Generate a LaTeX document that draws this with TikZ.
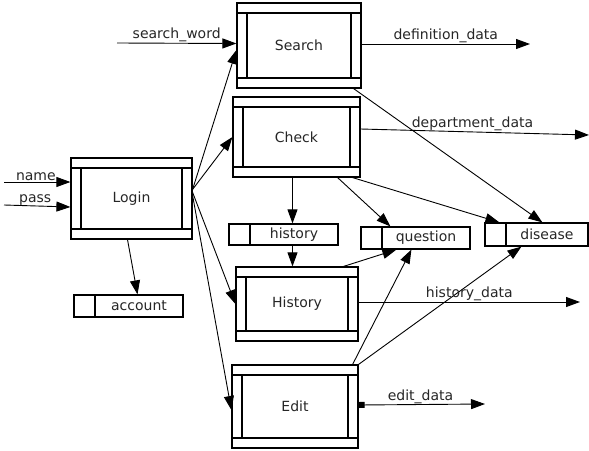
\documentclass[tikz,border=0pt]{standalone}
\usepackage{fontspec}
\newfontfamily\dvsans{DejaVu Sans}
\usetikzlibrary{arrows.meta,calc}

% right-hand cell of a data store: empty id cell of 21pt, then the name
\newcommand\storecell[2]{\hspace*{21pt}\makebox[#1][c]{#2}}

\tikzset{
  txt/.style={font=\dvsans\fontsize{14}{16}\selectfont, text=black!85},
  process/.style={draw, line width=1.2pt, inner sep=0pt, txt,
    path picture={
      \draw[line width=1.2pt]
        ([yshift=-10pt]path picture bounding box.north west) -- ([yshift=-10pt]path picture bounding box.north east)
        ([yshift=10pt]path picture bounding box.south west) -- ([yshift=10pt]path picture bounding box.south east)
        ([xshift=10pt,yshift=-10pt]path picture bounding box.north west) -- ([xshift=10pt,yshift=10pt]path picture bounding box.south west)
        ([xshift=-10pt,yshift=-10pt]path picture bounding box.north east) -- ([xshift=-10pt,yshift=10pt]path picture bounding box.south east);
    }},
  store/.style={draw, line width=1.2pt, inner sep=0pt, txt,
    path picture={
      \draw[line width=1.2pt]
        ([xshift=21pt]path picture bounding box.north west) -- ([xshift=21pt]path picture bounding box.south west);
    }},
  tip/.style={Triangle[length=14pt,width=10pt]},
  flow/.style={line width=0.9pt, -{Triangle[length=14pt,width=10pt]}},
  flowlabel/.style={txt, above, inner sep=0.5pt},
}

\begin{document}
\begin{tikzpicture}[x=1pt,y=-1pt]
\useasboundingbox (0,0) rectangle (589,450);

% processes
\node[process, minimum width=124pt, minimum height=85pt] (search)  at (299,45.5)  {Search};
\node[process, minimum width=127pt, minimum height=80pt] (check)   at (296.5,137) {Check};
\node[process, minimum width=121pt, minimum height=81pt] (login)   at (131.5,198.5) {Login};
\node[process, minimum width=122pt, minimum height=74pt] (history) at (297,304)   {History};
\node[process, minimum width=126pt, minimum height=83pt] (edit)    at (295,406.5) {Edit};

% data stores
\node[store, minimum width=109pt, minimum height=21pt] (histstore) at (283.5,234.5) {\storecell{88pt}{history}};
\node[store, minimum width=109pt, minimum height=22pt] (question)  at (415.5,238)   {\storecell{88pt}{question}};
\node[store, minimum width=103pt, minimum height=23pt] (disease)   at (536.5,234.5) {\storecell{82pt}{disease}};
\node[store, minimum width=109pt, minimum height=22pt] (account)   at (128.5,306)   {\storecell{88pt}{account}};

% free ends of external flows
\coordinate (namein) at (4,182);
\coordinate (passin) at (4,205);
\coordinate (wordin) at (117,43);
\coordinate (defout) at (530,44);
\coordinate (deptout) at (589,135);
\coordinate (histout) at (580,302);
\coordinate (editout) at (485,404);

% external inputs
\draw[flow] (namein) -- node[flowlabel, pos=0.48] {name} ($(login.west)+(0,-16.5)$);
\draw[flow] (passin) -- node[flowlabel, pos=0.47] {pass} ($(login.west)+(0,8.5)$);
\draw[flow] (wordin) -- node[flowlabel, pos=0.5] {search\_word} ($(search.west)+(0,-2)$);

% login fans out to the other processes
\draw[flow] ($(login.north east)+(0,32)$) -- ($(search.west)+(0,4.5)$);
\draw[flow] ($(login.north east)+(0,32)$) -- (check.west);
\draw[flow] ($(login.north east)+(0,35)$) -- (history.west);
\draw[flow] ($(login.north east)+(0,38)$) -- ($(edit.west)+(0,3.5)$);
\draw[flow] ($(login.south)+(-4,0)$) -- ($(account.north)+(9,0)$);

% check and search read the stores
\draw[flow] ($(check.south)+(-4,0)$) -- ($(histstore.north)+(9,0)$);
\draw[flow] ($(histstore.south)+(9,0)$) -- ($(history.north)+(-4.5,0)$);
\draw[flow] ($(check.south east)+(-23,0)$) -- ($(question.north west)+(30,0)$);
\draw[flow] ($(check.south east)+(-8,0)$) -- ($(disease.north west)+(15,0)$);
\draw[flow] ($(search.south east)+(-8,0)$) -- ($(disease.north west)+(58,0)$);

% history and edit write the stores
\draw[flow] ($(history.north east)+(-15,0)$) -- ($(question.south west)+(36,0)$);
\draw[flow] ($(edit.north east)+(-6,0)$) -- ($(question.south west)+(51,0)$);
\draw[flow] (edit.north east) -- ($(disease.south west)+(37,0)$);

% outputs
\draw[flow] ($(search.east)+(0,-1.5)$) -- node[flowlabel, pos=0.5] {definition\_data} (defout);
\draw[flow] ($(check.east)+(0,-8)$) -- node[flowlabel, pos=0.49] {department\_data} (deptout);
\draw[flow] ($(history.east)+(0,-2)$) -- node[flowlabel, pos=0.5] {history\_data} (histout);
\draw[line width=0.9pt, {Square[length=6pt,width=6pt]}-{Triangle[length=14pt,width=10pt]}]
  ($(edit.east)+(0,-1.5)$) -- node[flowlabel, pos=0.49] {edit\_data} (editout);
\end{tikzpicture}
\end{document}
